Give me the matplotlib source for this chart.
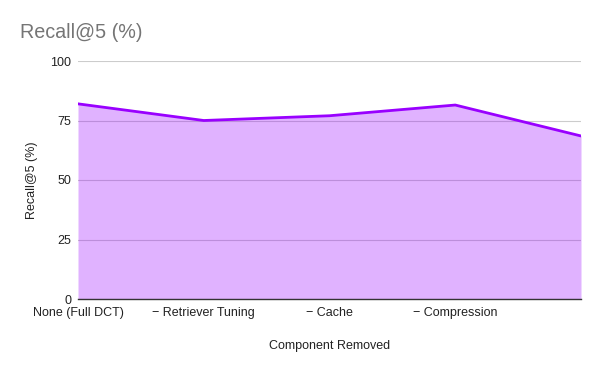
import matplotlib
matplotlib.use("Agg")
import matplotlib.pyplot as plt
import numpy as np

categories = ["None (Full DCT)", "\u2212 Retriever Tuning", "\u2212 Cache", "\u2212 Compression", ""]
recall = [82.0, 75.0, 77.0, 81.5, 68.5]
yticks = [0, 25, 50, 75, 100]

plt.rcParams['font.family'] = ['Liberation Sans', 'DejaVu Sans']

fig = plt.figure(figsize=(6, 3.71), dpi=100)
ax = fig.add_axes([78/600, 1-299/371, (581-78)/600, (299-61)/371])

x = np.arange(len(categories))
ax.fill_between(x, recall, 0, color='#9900ff', alpha=0.3, linewidth=0, zorder=2)
ax.plot(x, recall, color='#9900ff', linewidth=2, zorder=3)

ax.set_xlim(0, len(categories)-1)
ax.set_ylim(0, 100)
ax.set_yticks(yticks)
ax.set_yticklabels([str(t) for t in yticks], fontsize=9, color='#222222')
ax.set_xticks(x)
ax.set_xticklabels(categories, fontsize=9, color='#222222')
ax.tick_params(axis='x', length=0, pad=6)
ax.tick_params(axis='y', length=0, pad=5)
ax.grid(axis='y', color='#cccccc', linewidth=0.8, zorder=1)
ax.set_axisbelow(True)
for s in ['top', 'right', 'left']:
    ax.spines[s].set_visible(False)
ax.spines['bottom'].set_color('#333333')
ax.spines['bottom'].set_linewidth(1)
ax.spines['bottom'].set_zorder(4)

ax.set_ylabel("Recall@5 (%)", fontsize=9, color='#222222', labelpad=9)
ax.set_xlabel("Component Removed", fontsize=9, color='#222222', labelpad=15)

fig.text(20/600, 1-32/371, "Recall@5 (%)", fontsize=14.2, color='#757575', va='center', ha='left')

fig.savefig("out.png", dpi=100)
